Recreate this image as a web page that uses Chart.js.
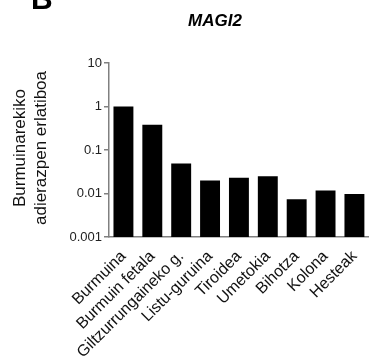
<!DOCTYPE html>
<html>
<head>
<meta charset="utf-8">
<script src="https://cdn.jsdelivr.net/npm/chart.js@4"></script>
<style>
  html, body { margin: 0; padding: 0; background: #fff; overflow: hidden; }
  #wrap { width: 370px; height: 362px; position: relative; }
</style>
</head>
<body>
<div id="wrap"><canvas id="c" width="370" height="362"></canvas></div>
<script>
// Tissues and MAGI2 expression relative to brain (log scale)
const tissues = ['Burmuina', 'Burmuin fetala', 'Giltzurrungaineko g.', 'Listu-guruina', 'Tiroidea', 'Umetokia', 'Bihotza', 'Kolona', 'Hesteak'];
const relativeExpression = [1.0, 0.38, 0.049, 0.020, 0.023, 0.025, 0.0074, 0.0117, 0.0097];
const yTicks = [0.001, 0.01, 0.1, 1, 10];
const yTickLabels = ['0.001', '0.01', '0.1', '1', '10'];
const geneName = 'MAGI2';
const panelLetter = 'B';
const yTitleLines = ['Burmuinarekiko', 'adierazpen erlatiboa'];

const FONT = "'Liberation Sans', Arial, sans-serif";
const AXIS_GREY = '#808080';

// Panel letter, gene title and two-line y-axis title
const decorations = {
  id: 'decorations',
  afterDraw(chart) {
    const ctx = chart.ctx;
    const area = chart.chartArea;
    ctx.save();
    ctx.fillStyle = '#000';

    ctx.font = 'bold 30px ' + FONT;
    ctx.textAlign = 'left';
    ctx.textBaseline = 'alphabetic';
    ctx.fillText(panelLetter, 31, 9);

    ctx.font = 'italic bold 17px ' + FONT;
    ctx.textAlign = 'center';
    ctx.textBaseline = 'middle';
    ctx.fillText(geneName, 215, 21);

    ctx.font = '17px ' + FONT;
    ctx.fillStyle = '#111';
    const cy = (area.top + area.bottom) / 2 - 2;
    ctx.translate(0, cy);
    ctx.rotate(-Math.PI / 2);
    ctx.textAlign = 'center';
    ctx.textBaseline = 'alphabetic';
    ctx.fillText(yTitleLines[0], 0, 25);
    ctx.fillText(yTitleLines[1], 0, 46);
    ctx.restore();
  }
};

new Chart(document.getElementById('c'), {
  type: 'bar',
  data: {
    labels: tissues,
    datasets: [{
      data: relativeExpression,
      backgroundColor: '#000',
      borderWidth: 0,
      barPercentage: 0.69,
      categoryPercentage: 1.0
    }]
  },
  options: {
    responsive: false,
    animation: false,
    devicePixelRatio: 1,
    layout: { padding: { left: 0, right: 0, top: 63, bottom: 0 } },
    plugins: { legend: { display: false }, tooltip: { enabled: false }, title: { display: false } },
    scales: {
      x: {
        grid: { display: false },
        border: { color: AXIS_GREY, width: 1.5 },
        ticks: {
          autoSkip: false,
          minRotation: 45,
          maxRotation: 45,
          padding: 2,
          color: '#111',
          font: { size: 16, family: FONT }
        },
        afterFit(scale) { scale.height = 125; }
      },
      y: {
        type: 'logarithmic',
        min: 0.001,
        max: 10,
        afterBuildTicks(scale) { scale.ticks = yTicks.map(v => ({ value: v })); },
        ticks: {
          padding: 2,
          color: '#222',
          font: { size: 13, family: FONT },
          callback(value) {
            const i = yTicks.indexOf(value);
            return i >= 0 ? yTickLabels[i] : '';
          }
        },
        grid: { drawOnChartArea: false, drawTicks: true, tickLength: 5, color: AXIS_GREY, lineWidth: 1.5 },
        border: { color: AXIS_GREY, width: 1.5 },
        afterFit(scale) { scale.width = 109; }
      }
    }
  },
  plugins: [decorations]
});
</script>
</body>
</html>
